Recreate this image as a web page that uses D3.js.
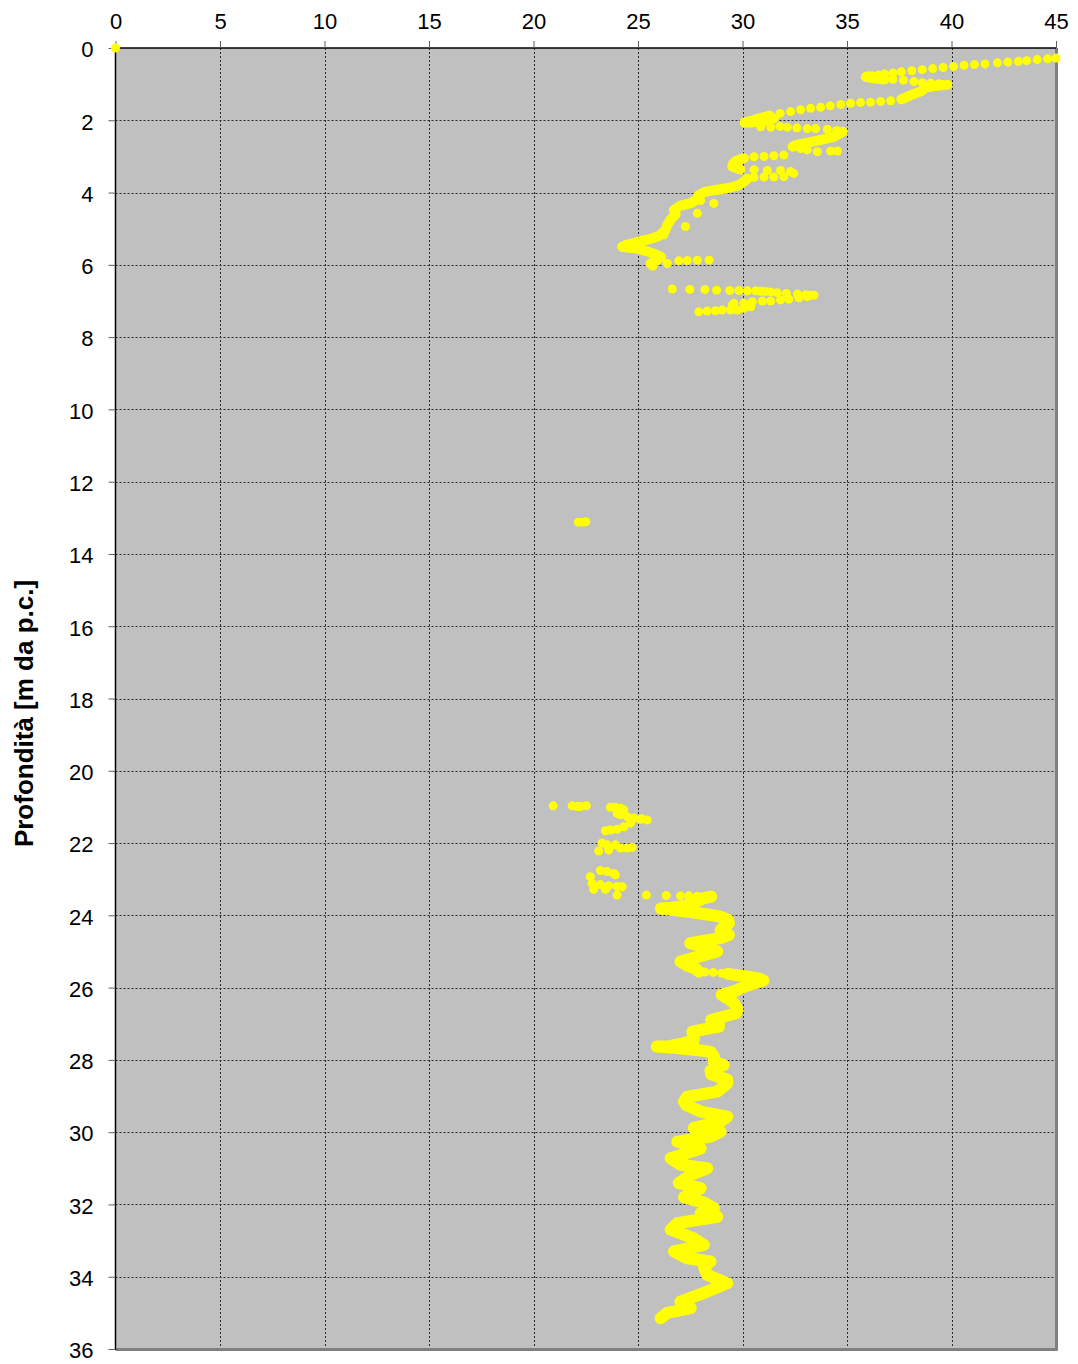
<!DOCTYPE html>
<html>
<head>
<meta charset="utf-8">
<script src="https://cdn.jsdelivr.net/npm/d3@7"></script>
<style>
  html, body { margin: 0; padding: 0; background: #ffffff; }
  svg { display: block; }
</style>
</head>
<body>
<svg id="chart" width="1078" height="1364"></svg>
<script>
// Axis ticks
const xTicks = [0, 5, 10, 15, 20, 25, 30, 35, 40, 45];
const depthTicks = [0, 2, 4, 6, 8, 10, 12, 14, 16, 18, 20, 22, 24, 26, 28, 30, 32, 34, 36];
const yTitle = "Profondità [m da p.c.]";

// Readings as [value, depth] pairs.
// Isolated readings, drawn as single markers.
const originDot = [[0, 0]];
const dotsTop = [
  [45.0, 0.28], [44.6, 0.30], [44.1, 0.32], [43.6, 0.35], [43.2, 0.37], [42.7, 0.39],
  [42.2, 0.41], [41.6, 0.44], [41.1, 0.46], [40.6, 0.48], [40.1, 0.51], [39.6, 0.54],
  [39.1, 0.57], [38.6, 0.60], [38.1, 0.63], [37.6, 0.66], [37.2, 0.69], [36.8, 0.72],
  [36.5, 0.75], [36.2, 0.77],
  [37.2, 0.87], [37.7, 0.89], [38.2, 0.93], [38.6, 0.96], [39.0, 0.97], [39.4, 0.99],
  [37.09, 1.46], [36.61, 1.48], [36.13, 1.50], [35.65, 1.51], [35.17, 1.53], [34.7, 1.56],
  [34.2, 1.60], [33.74, 1.64], [33.26, 1.67], [32.78, 1.71], [32.3, 1.76], [31.8, 1.81],
  [30.87, 2.18], [31.35, 2.19], [31.8, 2.17], [32.15, 2.19], [32.6, 2.21], [33.1, 2.23],
  [33.5, 2.23], [34.06, 2.25], [34.5, 2.28],
  [32.78, 2.78], [33.1, 2.82], [33.58, 2.87], [34.22, 2.85], [34.54, 2.85],
  [31.98, 2.96], [31.5, 2.98], [31.03, 3.00], [30.55, 3.01],
  [30.55, 3.37], [31.19, 3.39], [31.82, 3.39], [32.3, 3.42], [32.45, 3.47],
  [31.98, 3.56], [31.5, 3.57], [31.03, 3.57], [30.55, 3.58],
  [28.63, 4.30], [28.0, 4.22], [27.84, 4.57], [27.27, 4.94], [26.24, 5.17],
  [26.4, 5.96], [26.95, 5.89], [27.36, 5.88], [27.84, 5.87], [28.4, 5.87]
];
const dots7m = [
  [26.64, 6.67], [27.48, 6.68], [28.2, 6.68], [28.76, 6.70], [29.39, 6.71], [29.83, 6.71],
  [30.23, 6.72], [30.63, 6.72], [30.87, 6.73], [31.1, 6.74], [31.35, 6.75], [31.66, 6.77],
  [32.1, 6.79], [32.63, 6.81], [33.02, 6.83], [33.26, 6.84], [33.42, 6.84],
  [33.1, 6.88], [32.7, 6.91], [32.22, 6.95], [31.82, 6.97], [31.35, 7.00], [30.95, 7.00],
  [30.47, 7.02], [30.07, 7.06], [29.59, 7.06], [29.51, 7.11],
  [30.39, 7.16], [30.07, 7.20], [29.75, 7.25], [29.43, 7.25], [29.03, 7.25], [28.71, 7.27],
  [28.31, 7.28], [27.91, 7.30]
];
const dots13m = [[22.15, 13.12], [22.35, 13.12], [22.5, 13.11]];
const dots21m = [
  [20.94, 20.97], [21.85, 20.97], [22.09, 20.99], [22.25, 20.99], [22.53, 20.97],
  [23.68, 21.01], [23.92, 21.01], [24.16, 21.04], [24.32, 21.08], [24.0, 21.18], [24.16, 21.22],
  [24.48, 21.27], [24.8, 21.31], [25.12, 21.34], [25.44, 21.36], [25.2, 21.33],
  [24.64, 21.45], [24.32, 21.55], [24.0, 21.62], [23.68, 21.64], [23.44, 21.66],
  [23.28, 22.00], [23.52, 22.05], [23.92, 22.05], [24.16, 22.14], [24.48, 22.14], [24.72, 22.12],
  [23.6, 22.19], [23.12, 22.22],
  [23.2, 22.76], [23.52, 22.79], [23.84, 22.84], [23.92, 22.88], [22.72, 22.93],
  [22.8, 23.12], [23.2, 23.15], [23.6, 23.18], [24.0, 23.20], [24.24, 23.21], [22.88, 23.28],
  [23.44, 23.28], [24.0, 23.44],
  [25.4, 23.44], [26.35, 23.45], [27.03, 23.46], [27.43, 23.46], [27.84, 23.47], [28.2, 23.48],
  [28.2, 25.57], [28.6, 25.58], [29.0, 25.60]
];

// Dense stretches, drawn as continuous runs of overlapping markers.
const runTopA = [[36.0, 0.78], [35.9, 0.80], [36.3, 0.84], [36.8, 0.87]];
const runTopB = [[39.8, 1.02], [39.2, 1.05], [38.7, 1.10], [38.6, 1.18], [38.3, 1.25], [38.0, 1.32], [37.6, 1.42]];
const runTopC = [[31.3, 1.87], [30.9, 1.93], [30.5, 2.00], [30.1, 2.06], [30.4, 2.06], [31.0, 2.02], [31.5, 1.95]];
const runTopD = [[34.8, 2.32], [34.6, 2.38], [34.38, 2.45], [33.9, 2.52], [33.58, 2.56], [33.0, 2.63], [32.6, 2.68], [32.4, 2.73]];
const runTopE = [[30.07, 3.05], [29.7, 3.12], [29.55, 3.20], [29.51, 3.28], [29.9, 3.36]];
const runTopF = [
  [30.23, 3.62], [30.07, 3.70], [29.8, 3.80], [29.27, 3.88], [28.7, 3.93], [28.2, 3.98],
  [27.9, 4.07], [27.84, 4.18], [27.5, 4.30], [27.03, 4.36], [26.72, 4.48], [26.8, 4.60],
  [26.56, 4.75], [26.4, 4.90], [26.3, 5.05], [26.0, 5.20], [25.6, 5.28], [25.0, 5.36],
  [24.4, 5.46], [24.24, 5.50], [24.6, 5.53], [24.96, 5.55], [25.4, 5.62], [25.8, 5.70],
  [26.1, 5.78], [25.9, 5.87], [25.6, 5.96], [25.7, 6.02]
];
const runLowA = [
  [28.5, 23.48], [28.1, 23.53], [27.8, 23.62], [27.2, 23.74], [26.6, 23.79], [26.1, 23.81],
  [26.8, 23.86], [27.4, 23.90], [27.84, 23.94], [28.5, 23.99], [28.95, 24.04], [29.3, 24.12],
  [29.35, 24.22], [29.1, 24.32], [28.95, 24.40], [29.35, 24.54], [28.95, 24.63], [28.2, 24.70],
  [27.5, 24.77], [28.15, 24.87], [28.79, 25.00], [28.15, 25.10], [27.5, 25.20], [27.03, 25.28],
  [27.4, 25.40], [27.75, 25.47], [27.9, 25.56]
];
const runLowB = [
  [29.3, 25.62], [29.8, 25.66], [30.3, 25.70], [30.8, 25.75], [31.0, 25.80], [30.7, 25.86],
  [30.2, 25.95], [29.6, 26.10], [29.0, 26.20], [29.3, 26.30], [29.6, 26.43], [29.75, 26.60],
  [29.7, 26.71], [29.1, 26.80], [28.5, 26.90], [28.87, 27.00], [28.87, 27.08], [28.2, 27.15],
  [27.6, 27.22], [27.67, 27.35], [27.67, 27.45], [27.1, 27.55], [26.5, 27.62], [25.9, 27.63],
  [26.6, 27.66], [27.3, 27.70], [28.0, 27.74], [28.47, 27.78], [28.63, 27.90], [28.63, 28.05],
  [29.1, 28.14], [28.47, 28.30], [28.5, 28.40], [29.27, 28.55], [29.27, 28.65], [28.79, 28.88],
  [27.36, 29.02], [27.2, 29.15], [27.3, 29.25], [28.0, 29.43], [29.27, 29.57], [28.95, 29.71],
  [27.67, 29.88], [28.95, 29.99], [28.47, 30.12], [26.88, 30.26], [28.0, 30.45], [26.56, 30.72],
  [27.03, 30.90], [28.31, 31.00], [27.52, 31.18], [26.95, 31.41], [28.0, 31.55], [27.2, 31.80],
  [28.15, 31.95], [28.63, 32.10], [28.0, 32.24], [28.79, 32.34], [26.88, 32.52], [26.56, 32.70],
  [27.67, 32.94], [28.15, 33.12], [26.72, 33.30], [27.36, 33.49], [28.47, 33.58], [28.15, 33.72],
  [28.31, 33.95], [29.27, 34.18], [28.31, 34.41], [27.03, 34.69], [27.52, 34.87], [26.4, 35.00],
  [26.08, 35.15]
];

const dotGroups = [originDot, dotsTop, dots7m, dots13m, dots21m];
const runsUpper = [runTopA, runTopB, runTopC, runTopD, runTopE, runTopF];
const runsLower = [runLowA, runLowB];

const svg = d3.select("#chart");
const plotLeft = 115.5, plotRight = 1056, plotTop = 48, plotBottom = 1349;
const x = d3.scaleLinear().domain([0, 45]).range([plotLeft, plotRight]);
const y = d3.scaleLinear().domain([0, 36]).range([plotTop, plotBottom]);

const font = "'Liberation Sans', Arial, sans-serif";
const markerColor = "#ffff00";

// Plot background
svg.append("rect")
  .attr("x", plotLeft).attr("y", plotTop)
  .attr("width", plotRight - plotLeft).attr("height", plotBottom - plotTop)
  .attr("fill", "#c0c0c0");

// Dotted grid
const grid = svg.append("g").attr("stroke", "#2a2a2a").attr("stroke-width", 1)
  .attr("stroke-dasharray", "2,2");
grid.selectAll("line.v").data(xTicks.filter(v => v > 0 && v < 45)).join("line")
  .attr("class", "v")
  .attr("x1", d => Math.round(x(d)) + 0.5).attr("x2", d => Math.round(x(d)) + 0.5)
  .attr("y1", plotTop).attr("y2", plotBottom);
grid.selectAll("line.h").data(depthTicks.filter(v => v > 0 && v < 36)).join("line")
  .attr("class", "h")
  .attr("y1", d => Math.round(y(d)) + 0.5).attr("y2", d => Math.round(y(d)) + 0.5)
  .attr("x1", plotLeft).attr("x2", plotRight);

// Frame: shadowed right and bottom edges
svg.append("line").attr("x1", plotRight + 0.5).attr("x2", plotRight + 0.5)
  .attr("y1", plotTop).attr("y2", plotBottom + 1.5)
  .attr("stroke", "#808080").attr("stroke-width", 3);
svg.append("line").attr("x1", plotLeft).attr("x2", plotRight + 1.5)
  .attr("y1", plotBottom + 0.5).attr("y2", plotBottom + 0.5)
  .attr("stroke", "#808080").attr("stroke-width", 3);

// Frame: black top and left edges
svg.append("line").attr("x1", plotLeft).attr("x2", plotRight).attr("y1", plotTop).attr("y2", plotTop)
  .attr("stroke", "#000").attr("stroke-width", 1.5);
svg.append("line").attr("x1", plotLeft).attr("x2", plotLeft).attr("y1", plotTop).attr("y2", plotBottom + 1)
  .attr("stroke", "#000").attr("stroke-width", 1.5);

// Top axis
const xAxis = svg.append("g")
  .attr("transform", `translate(0,${plotTop})`)
  .call(d3.axisTop(x).tickValues(xTicks).tickSize(7).tickPadding(12).tickFormat(d3.format("d")));
xAxis.select(".domain").remove();
xAxis.selectAll(".tick line").attr("stroke", "#606060");
xAxis.selectAll(".tick text").attr("font-family", font).attr("font-size", 22).attr("fill", "#000");

// Left axis
const yAxis = svg.append("g")
  .attr("transform", `translate(${plotLeft},0)`)
  .call(d3.axisLeft(y).tickValues(depthTicks).tickSize(7).tickPadding(15).tickFormat(d3.format("d")));
yAxis.select(".domain").remove();
yAxis.selectAll(".tick line").attr("stroke", "#606060");
yAxis.selectAll(".tick text").attr("font-family", font).attr("font-size", 22).attr("fill", "#000")
  .attr("dy", "0.4em");

// Data, on top of the frame: dense runs as thick round-jointed strokes,
// isolated readings as markers
const line = d3.line().x(d => x(d[0])).y(d => y(d[1]));
const marks = svg.append("g");
marks.selectAll("path.upper").data(runsUpper).join("path")
  .attr("class", "upper")
  .attr("d", line)
  .attr("fill", "none")
  .attr("stroke", markerColor)
  .attr("stroke-width", 10)
  .attr("stroke-linecap", "round")
  .attr("stroke-linejoin", "round");
marks.selectAll("path.lower").data(runsLower).join("path")
  .attr("class", "lower")
  .attr("d", line)
  .attr("fill", "none")
  .attr("stroke", markerColor)
  .attr("stroke-width", 12)
  .attr("stroke-linecap", "round")
  .attr("stroke-linejoin", "round");
marks.selectAll("g").data(dotGroups).join("g")
  .selectAll("circle").data(d => d).join("circle")
  .attr("cx", d => x(d[0])).attr("cy", d => y(d[1])).attr("r", 4.5)
  .attr("fill", markerColor);

// Axis title
svg.append("text")
  .attr("transform", `translate(33,${(plotTop + plotBottom) / 2 + 15}) rotate(-90)`)
  .attr("text-anchor", "middle")
  .attr("font-family", font).attr("font-size", 26).attr("font-weight", "bold")
  .attr("fill", "#000")
  .text(yTitle);
</script>
</body>
</html>
